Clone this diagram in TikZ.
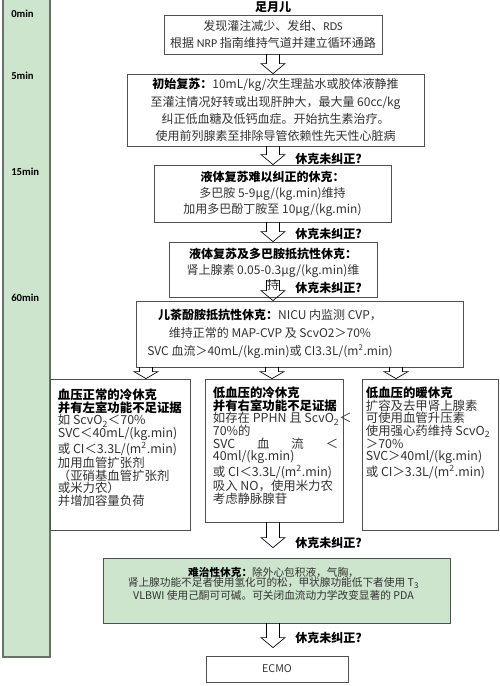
\documentclass[tikz,border=0pt]{standalone}
\usepackage{fontspec}
\setmainfont{Noto Sans CJK SC}
\newfontfamily\calfont{Carlito}
\usetikzlibrary{calc}
\definecolor{barfill}{RGB}{204,229,204}
\definecolor{barline}{RGB}{105,112,105}
\definecolor{boxline}{RGB}{80,80,80}
\definecolor{bodytext}{RGB}{50,50,50}
\newcommand{\hollowarrow}[4][harrow]{%
  \draw[#1] let \p1=#2, \p2=#3 in
    (\x1-4.9pt,\y1) -- (\x1+4.9pt,\y1) -- (\x1+4.9pt,\y2+#4) -- (\x1+9pt,\y2+#4)
    -- (\x1,\y2) -- (\x1-9pt,\y2+#4) -- (\x1-4.9pt,\y2+#4) -- cycle;}
\begin{document}
\begin{tikzpicture}[x=0.75pt,y=-0.75pt,
  box/.style={draw=boxline, line width=0.6pt, inner sep=0pt, align=center, text=bodytext},
  harrow/.style={draw=black, line width=0.5pt, fill=white},
  harrowopen/.style={draw=black, line width=0.5pt},
  askq/.style={anchor=west, inner sep=0pt, font=\fontsize{9}{11}\selectfont\bfseries},
  minlbl/.style={anchor=west, inner sep=0pt, font=\calfont\fontsize{8}{10}\selectfont\bfseries},
  tbody/.style={anchor=north west, align=left, inner sep=0pt, text=bodytext, font=\fontsize{9.3}{9.5}\selectfont},
  bar/.style={draw=barline, line width=1.1pt, fill=barfill}]
\useasboundingbox (0,0) rectangle (500,686);
% time bar
\draw[bar] (3,-4) rectangle (50,657);
\node[minlbl] (m0) at (11,14) {0min};
\node[minlbl] (m5) at (11,76) {5min};
\node[minlbl] (m15) at (11,172) {15min};
\node[minlbl] (m60) at (11,298) {60min};
% coordinates for arrow columns
\coordinate (ax) at (273,0);
\coordinate (a5l) at (146,0);
\coordinate (a5m) at (272,0);
\coordinate (a5r) at (396,0);
% title
\node[inner sep=0pt, font=\fontsize{9}{11}\selectfont\bfseries] (title) at (273,7) {足月儿};
% boxes
\node[box, minimum width=163.5pt, minimum height=29.25pt, font=\fontsize{9}{12.75}\selectfont] (b1) at (273,34.5)
  {发现灌注减少、发绀、{\calfont RDS}\\根据 {\calfont NRP} 指南维持气道并建立循环通路};
\node[box, minimum width=222.75pt, minimum height=54pt, font=\fontsize{9}{13}\selectfont] (b2) at (275.5,110)
  {\textbf{\color{black}初始复苏：}10mL/kg/次生理盐水或胶体液静推\\
   至灌注情况好转或出现肝肿大，最大量 60cc/kg\\
   纠正低血糖及低钙血症。开始抗生素治疗。\\
   使用前列腺素至排除导管依赖性先天性心脏病};
\node[box, minimum width=177.75pt, minimum height=42.75pt, font=\fontsize{9}{12}\selectfont] (b3) at (272.5,193.5)
  {\textbf{\color{black}液体复苏难以纠正的休克：}\\
   多巴胺 5-9μg/(kg.min)维持\\
   加用多巴酚丁胺至 10μg/(kg.min)};
\node[box, minimum width=156pt, minimum height=41.25pt, font=\fontsize{9}{11.6}\selectfont] (b4) at (273,269.5)
  {\textbf{\color{black}液体复苏及多巴胺抵抗性休克：}\\
   肾上腺素 0.05-0.3μg/(kg.min)维\\
   持};
\node[box, minimum width=245.25pt, minimum height=49.5pt] (b5) at (299.5,334) {};
\node[inner sep=0pt, align=center, text=bodytext, font=\fontsize{9}{13.5}\selectfont] (t5) at (270,334)
  {\textbf{\color{black}儿茶酚胺抵抗性休克：}NICU 内监测 CVP，\\
   维持正常的 MAP-CVP 及 ScvO2＞70\%\\
   SVC 血流＞40mL/(kg.min)或 CI3.3L/(m\textsuperscript{2}.min)};
\node[box, minimum width=105pt, minimum height=113.25pt] (b6) at (120,454.5) {};
\node[box, minimum width=103.5pt, minimum height=107.25pt] (b7) at (274,450.5) {};
\node[box, minimum width=102pt, minimum height=113.25pt] (b8) at (430,454.5) {};
\node[tbody] (t6) at ($(b6.north west)+(8,10)$)
  {\textbf{\color{black}血压正常的冷休克}\\
   \textbf{\color{black}并有左室功能不足证据}\\
   如 ScvO\textsubscript{2}＜70\%\\
   SVC＜40mL/(kg.min)\\
   或 CI＜3.3L/(m\textsuperscript{2}.min)\\
   加用血管扩张剂\\
   （亚硝基血管扩张剂\\
   或米力农）\\
   并增加容量负荷};
\node[tbody] (t7) at ($(b7.north west)+(8,8)$)
  {\textbf{\color{black}低血压的冷休克}\\
   \textbf{\color{black}并有右室功能不足证据}\\
   如存在 PPHN 且 ScvO\textsubscript{2}＜\\
   70\%的\\
   \makebox[94pt][l]{SVC\hfill 血\hfill 流\hfill ＜}\\
   40ml/(kg.min)\\
   或 CI＜3.3L/(m\textsuperscript{2}.min)\\
   吸入 NO，使用米力农\\
   考虑静脉腺苷};
\node[tbody] (t8) at ($(b8.north west)+(4,8)$)
  {\textbf{\color{black}低血压的暖休克}\\
   扩容及去甲肾上腺素\\
   可使用血管升压素\\
   使用强心药维持 ScvO\textsubscript{2}\\
   ＞70\%\\
   SVC＞40ml/(kg.min)\\
   或 CI＞3.3L/(m\textsuperscript{2}.min)};
\node[box, fill=barfill, minimum width=260.25pt, minimum height=48.75pt] (b9) at (276.5,590.5) {};
\node[anchor=north, inner sep=0pt, align=center, text=bodytext, font=\fontsize{8}{8.1}\selectfont] (t9) at ($(b9.north)+(-3,9)$)
  {\textbf{\color{black}难治性休克：}除外心包积液，气胸，\\
   肾上腺功能不足者使用氢化可的松，甲状腺功能低下者使用 T\textsubscript{3}\\
   VLBWI 使用己酮可可碱。可关闭血流动力学改变显著的 PDA};
\node[box, minimum width=106.5pt, minimum height=19.5pt, font=\fontsize{8}{10}\selectfont] (ecmo) at (277,669) {ECMO};
% arrows
\hollowarrow{(b1.south -| ax)}{(b2.north -| ax)}{7.5pt}
\hollowarrow{(b2.south -| ax)}{(b3.north -| ax)}{7.5pt}
\hollowarrow{(b3.south -| ax)}{(b4.north -| ax)}{7.5pt}
\hollowarrow[harrowopen]{($(b4.south -| ax)+(0,-17)$)}{(b5.north -| ax)}{7.5pt}
\hollowarrow{(b5.south -| a5l)}{(b6.north -| a5l)}{5.25pt}
\hollowarrow{(b5.south -| a5m)}{(b7.north -| a5m)}{5.25pt}
\hollowarrow{(b5.south -| a5r)}{(b8.north -| a5r)}{5.25pt}
\hollowarrow{(b7.south -| ax)}{($(b9.north -| ax)+(0,-10)$)}{7.5pt}
\hollowarrow{(b9.south -| ax)}{($(ecmo.north -| ax)+(0,-8)$)}{7.5pt}
% labels
\node[askq] (q1) at (295,159) {休克未纠正?};
\node[askq] (q2) at (295,234) {休克未纠正?};
\node[askq] (q3) at (295,288) {休克未纠正?};
\node[askq] (q4) at (295,543) {休克未纠正?};
\node[askq] (q5) at (295,638) {休克未纠正?};
\end{tikzpicture}
\end{document}
